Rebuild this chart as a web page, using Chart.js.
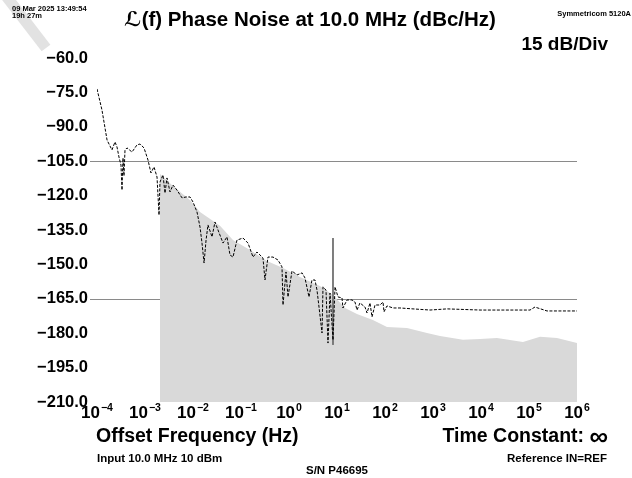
<!DOCTYPE html>
<html>
<head>
<meta charset="utf-8">
<script src="https://cdn.jsdelivr.net/npm/chart.js@4.4.1/dist/chart.umd.min.js"></script>
<style>
  html, body { margin: 0; padding: 0; background: #fff; }
</style>
</head>
<body>
<canvas id="pnChart" width="632" height="478"></canvas>
<script>
// x axis decades and y axis ticks
const decades = [1e-4, 1e-3, 1e-2, 1e-1, 1e0, 1e1, 1e2, 1e3, 1e4, 1e5, 1e6];
const decadeExp = ['\u22124', '\u22123', '\u22122', '\u22121', '0', '1', '2', '3', '4', '5', '6'];
const yTicks = [-210, -195, -180, -165, -150, -135, -120, -105, -90, -75, -60];
const refLevels = [-105, -165];

// measured phase noise trace (Hz, dBc/Hz)
const traceFreq = [1.00e-4, 1.27e-4, 1.62e-4, 2.05e-4, 2.37e-4, 2.61e-4, 2.87e-4, 3.16e-4, 3.32e-4, 3.48e-4,
  3.65e-4, 3.83e-4, 4.22e-4, 5.36e-4, 6.81e-4, 7.87e-4, 9.53e-4, 1.155e-3, 1.33e-3, 1.54e-3,
  1.78e-3, 1.96e-3, 2.05e-3, 2.37e-3, 2.61e-3, 2.87e-3, 3.32e-3, 3.83e-3, 4.64e-3, 5.90e-3,
  7.15e-3, 8.66e-3, 0.0100, 0.0121, 0.0140, 0.0154, 0.0170, 0.0187, 0.0205, 0.0249,
  0.0287, 0.0332, 0.0422, 0.0511, 0.0590, 0.0681, 0.0825, 0.110, 0.140, 0.178,
  0.215, 0.287, 0.316, 0.365, 0.464, 0.590, 0.715, 0.750, 0.866, 0.953,
  1.155, 1.47, 1.87, 2.15, 2.61, 3.01, 3.48, 3.83, 4.22, 4.87,
  5.11, 5.90, 6.49, 7.15, 8.25, 9.09, 10.5, 12.7, 13.3, 16.2,
  20.5, 23.7, 26.1, 30.1, 38.3, 42.2, 48.7, 53.6, 61.9, 78.7,
  90.9, 95.3, 110, 147, 205, 383, 866, 1960, 9530, 46400,
  105000, 133000, 237000, 1e6];
const traceDb = [-73.5, -82.7, -95.8, -100.1, -96.6, -98.8, -103.2, -106.7, -117.6, -103.6,
  -111.4, -100.1, -99.2, -101.0, -97.9, -97.5, -99.2, -104.5, -110.1, -107.5,
  -111.9, -128.5, -114.1, -111.0, -118.9, -112.3, -118.4, -115.4, -117.6, -121.0,
  -120.6, -120.6, -122.8, -127.1, -133.7, -140.7, -149.4, -139.4, -132.8, -138.0,
  -131.5, -135.0, -140.7, -138.0, -145.9, -146.8, -139.4, -138.5, -140.7, -146.8,
  -144.6, -147.2, -156.8, -146.8, -146.8, -148.1, -151.1, -167.7, -153.3, -164.2,
  -152.9, -154.6, -153.7, -155.9, -164.2, -156.8, -156.8, -161.2, -168.6, -179.9,
  -159.8, -161.2, -184.3, -162.5, -183.0, -159.8, -164.2, -164.6, -169.0, -165.5,
  -165.5, -166.4, -169.9, -166.8, -168.6, -171.2, -166.8, -172.9, -167.7, -167.7,
  -166.4, -170.7, -168.1, -169.0, -169.0, -169.4, -169.9, -169.4, -169.9, -169.9,
  -169.9, -168.6, -170.3, -170.3];

// shaded floor (Hz, dBc/Hz)
const floorFreq = [2.05e-3, 3.83e-3, 8.66e-3, 0.0140, 0.0365, 0.068, 0.154, 0.348, 0.75, 1.69,
  4.4, 8.25, 14.7, 26, 56, 110, 287, 750, 1400, 4200,
  9550, 21500, 75000, 170000, 383000, 1e6];
const floorDb = [-110.6, -115.8, -121.9, -127.1, -133.2, -139.4, -143.7, -148.5, -151.6, -155.5,
  -159.4, -163.3, -169.0, -171.6, -174.2, -177.3, -177.7, -179.9, -181.2, -182.9,
  -182.5, -182.1, -183.8, -181.6, -182.1, -184.3];

// spur marker
const spurFreq = [8.25, 8.25];
const spurDb = [-138.5, -185.1];

const pts = (xs, ys) => xs.map((x, i) => ({ x: x, y: ys[i] }));
const FONT = "'Liberation Sans', Arial, 'DejaVu Sans', sans-serif";

const decor = {
  id: 'decor',
  beforeDraw(chart) {
    const c = chart.ctx;
    c.save();
    c.fillStyle = '#fff';
    c.fillRect(0, 0, chart.width, chart.height);
    c.strokeStyle = '#e2e2e2';
    c.lineWidth = 11;
    c.beginPath();
    c.moveTo(6, -4);
    c.lineTo(46, 48);
    c.stroke();
    c.restore();
  },
  beforeDatasetsDraw(chart) {
    const c = chart.ctx, a = chart.chartArea, y = chart.scales.y;
    c.save();
    c.strokeStyle = '#8a8a8a';
    c.lineWidth = 1;
    refLevels.forEach(v => {
      const py = Math.round(y.getPixelForValue(v)) + 0.5;
      c.beginPath();
      c.moveTo(a.left - 7, py);
      c.lineTo(a.right, py);
      c.stroke();
    });
    c.restore();
  },
  afterDraw(chart) {
    const c = chart.ctx, x = chart.scales.x;
    c.save();
    c.fillStyle = '#000';
    c.textBaseline = 'middle';

    c.font = 'bold 20.5px ' + FONT;
    c.textAlign = 'center';
    c.fillText('\u2112(f) Phase Noise at 10.0 MHz (dBc/Hz)', 310, 20);

    c.font = 'bold 19px ' + FONT;
    c.textAlign = 'right';
    c.fillText('15 dB/Div', 608, 45);

    c.font = 'bold 7.5px ' + FONT;
    c.textAlign = 'left';
    c.fillText('09 Mar 2025 13:49:54', 12, 9);
    c.fillText('19h 27m', 12, 16);
    c.textAlign = 'right';
    c.fillText('Symmetricom 5120A', 631, 14);

    // decade labels 10^n
    decades.forEach((d, i) => {
      const px = x.getPixelForValue(d);
      c.font = 'bold 17px ' + FONT;
      const wb = c.measureText('10').width;
      c.font = 'bold 10.5px ' + FONT;
      const we = c.measureText(decadeExp[i]).width;
      const left = px - (wb + we + 1) / 2;
      c.textAlign = 'left';
      c.font = 'bold 17px ' + FONT;
      c.fillText('10', left, 413);
      c.font = 'bold 10.5px ' + FONT;
      c.fillText(decadeExp[i], left + wb + 1, 408);
    });

    c.font = 'bold 19.5px ' + FONT;
    c.textAlign = 'left';
    c.fillText('Offset Frequency (Hz)', 96, 437);
    // time constant, with a larger infinity sign
    c.font = 'bold 26px ' + FONT;
    const wInf = c.measureText('\u221e').width;
    c.textAlign = 'right';
    c.fillText('\u221e', 608, 438);
    c.font = 'bold 19.5px ' + FONT;
    c.fillText('Time Constant: ', 608 - wInf, 437);

    c.font = 'bold 11.5px ' + FONT;
    c.textAlign = 'left';
    c.fillText('Input 10.0 MHz 10 dBm', 97, 459);
    c.textAlign = 'right';
    c.fillText('Reference IN=REF', 607, 459);
    c.textAlign = 'center';
    c.fillText('S/N P46695', 337, 471);
    c.restore();
  }
};

new Chart(document.getElementById('pnChart'), {
  type: 'line',
  data: {
    datasets: [
      {
        label: 'L(f)',
        data: pts(traceFreq, traceDb),
        borderColor: '#000',
        borderWidth: 1,
        borderDash: [3, 1.5],
        pointRadius: 0,
        tension: 0,
        fill: false,
        order: 0
      },
      {
        label: 'spur',
        data: pts(spurFreq, spurDb),
        borderColor: '#6e6e6e',
        borderWidth: 1,
        pointRadius: 0,
        fill: false,
        order: 1
      },
      {
        label: 'floor',
        data: pts(floorFreq, floorDb),
        borderWidth: 0,
        borderColor: 'rgba(0,0,0,0)',
        backgroundColor: '#d9d9d9',
        pointRadius: 0,
        tension: 0,
        fill: 'start',
        order: 2
      }
    ]
  },
  options: {
    responsive: false,
    animation: false,
    devicePixelRatio: 1,
    layout: { padding: { top: 58, right: 55, left: 0, bottom: 0 } },
    plugins: { legend: { display: false }, tooltip: { enabled: false } },
    scales: {
      x: {
        type: 'logarithmic',
        min: 1e-4,
        max: 1e6,
        grid: { display: false },
        border: { display: false },
        ticks: { display: false },
        afterBuildTicks: s => { s.ticks = decades.map(v => ({ value: v })); },
        afterFit: s => { s.height = 76; }
      },
      y: {
        type: 'linear',
        min: -210,
        max: -60,
        grid: { display: false, drawTicks: false },
        border: { display: false },
        ticks: {
          padding: 9,
          color: '#000',
          font: { family: FONT, size: 16.5, weight: 'bold' },
          callback: v => (v < 0 ? '\u2212' : '') + Math.abs(v).toFixed(1)
        },
        afterBuildTicks: s => { s.ticks = yTicks.map(v => ({ value: v })); },
        afterFit: s => { s.width = 97; }
      }
    }
  },
  plugins: [decor]
});
</script>
</body>
</html>
